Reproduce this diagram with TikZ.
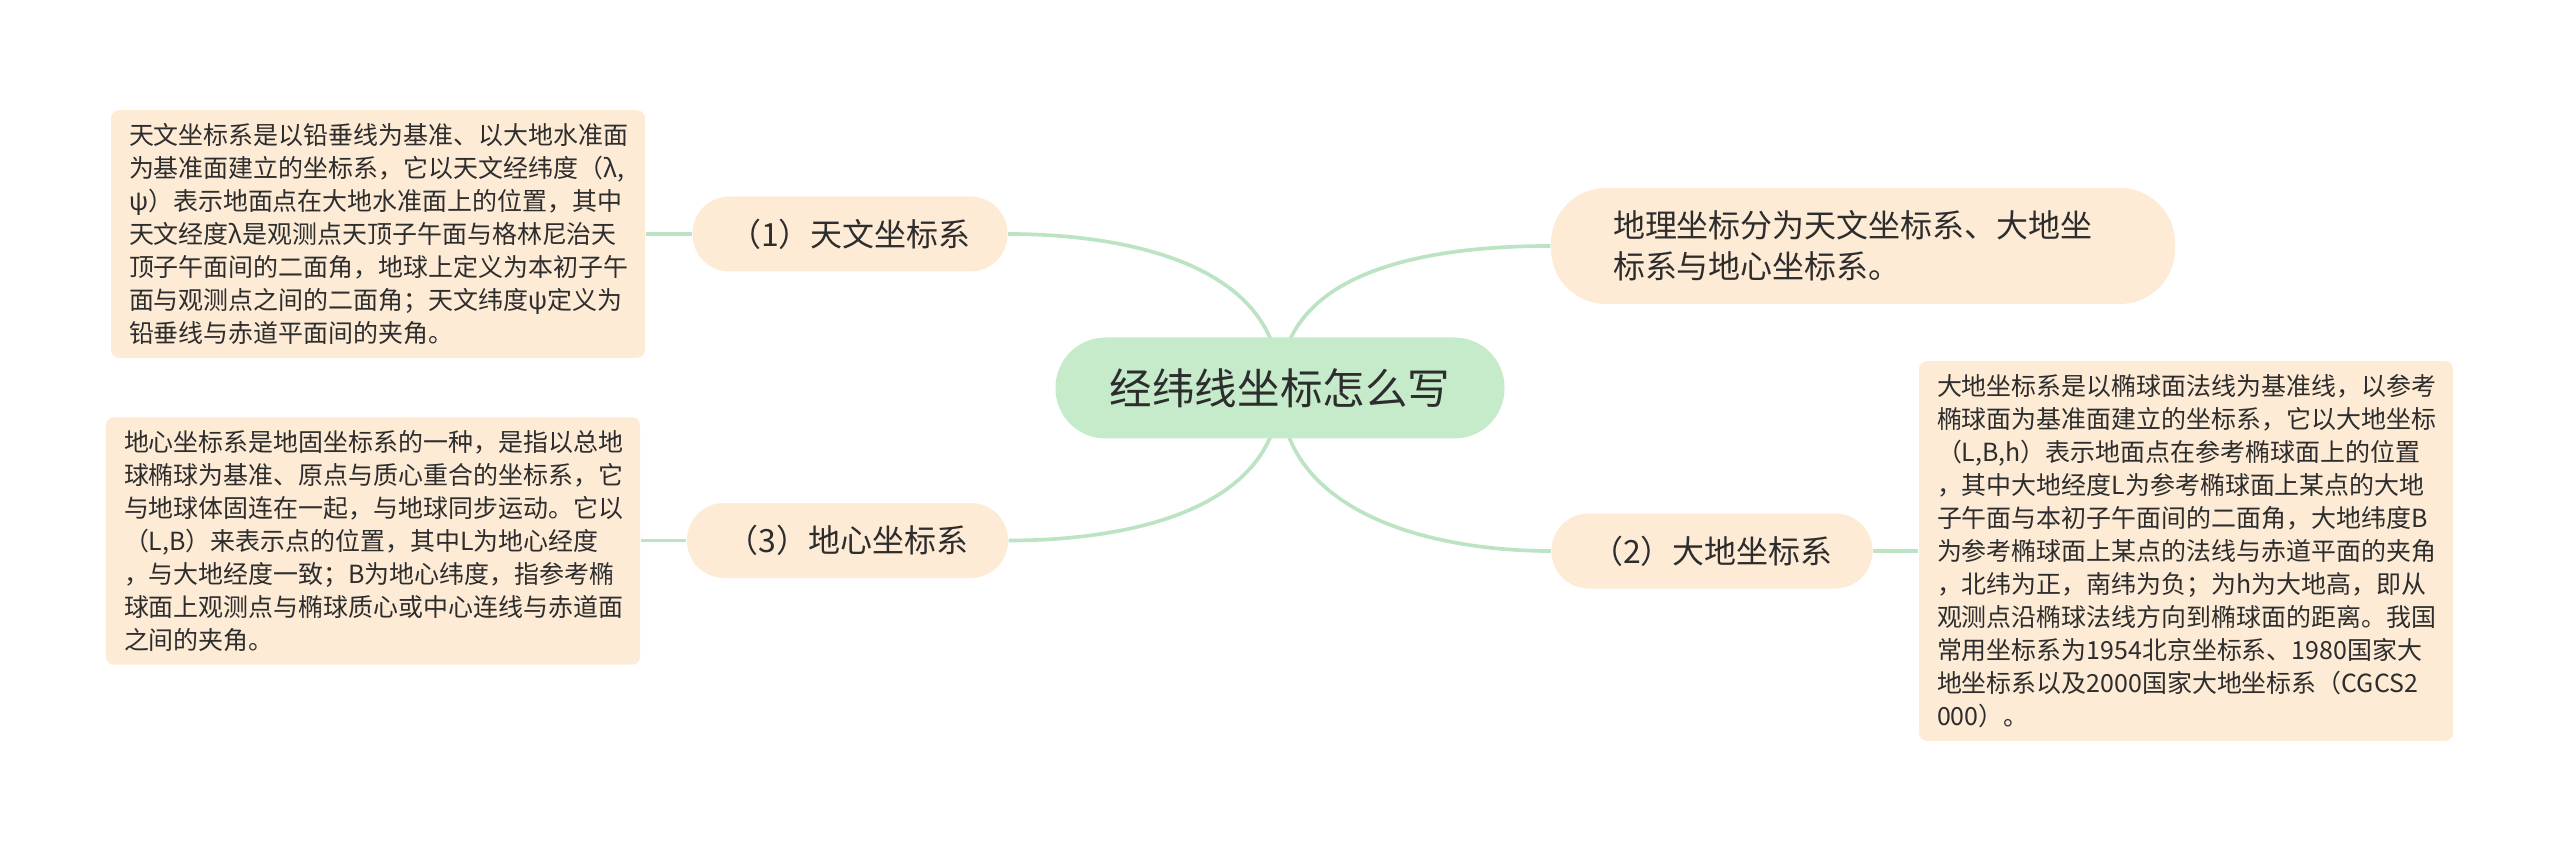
\documentclass[tikz,border=0pt]{standalone}
\usepackage{fontspec}
\newfontfamily\cjk{Noto Sans CJK SC}
\usetikzlibrary{calc, positioning}
\usetikzlibrary{backgrounds}

\definecolor{rootgreen}{RGB}{197,235,203}
\definecolor{peach}{RGB}{253,235,214}
\definecolor{linkgreen}{RGB}{188,228,196}
\definecolor{textgray}{RGB}{45,45,45}

\begin{document}
\begin{tikzpicture}[
        root/.style={fill=rootgreen, rounded corners=5mm, minimum width=4.49cm,
            minimum height=1.01cm, inner sep=0pt, text=textgray,
            font=\cjk\fontsize{12.1}{14}\selectfont},
        topic/.style={fill=peach, rounded corners=3.7mm, minimum width=3.21cm,
            minimum height=0.75cm, inner sep=0pt, text=textgray,
            font=\cjk\fontsize{9.1}{11}\selectfont},
        note/.style={fill=peach, rounded corners=5.5mm, text width=5.0cm, align=left,
            inner xsep=6.2mm, minimum height=1.16cm, text=textgray,
            font=\cjk\fontsize{9.1}{11.7}\selectfont},
        leaf/.style={fill=peach, rounded corners=0.8mm, text width=4.98cm, align=left,
            inner xsep=1.8mm, inner ysep=1.3mm, text=textgray,
            font=\cjk\fontsize{7.1}{9.4}\selectfont},
        link/.style={draw=linkgreen, line width=1.05pt}
    ]
        \useasboundingbox (0,0) rectangle (25.6,8.51);

        \node[root] (root) at (12.80,4.63) {经纬线坐标怎么写};

        \node[topic, minimum width=3.15cm] (astro) at (8.50,6.17) {（1）天文坐标系};
        \node[topic] (geoc) at (8.475,3.105) {（3）地心坐标系};
        \node[topic] (geod) at (17.12,3.00) {（2）大地坐标系};
        \node[note] (intro) at (18.63,6.05) {地理坐标分为天文坐标系、大地坐\\标系与地心坐标系。};

        \node[leaf] (astrotxt) at (3.78,6.17) {天文坐标系是以铅垂线为基准、以大地水准面\\
            为基准面建立的坐标系，它以天文经纬度（λ,\\
            ψ）表示地面点在大地水准面上的位置，其中\\
            天文经度λ是观测点天顶子午面与格林尼治天\\
            顶子午面间的二面角，地球上定义为本初子午\\
            面与观测点之间的二面角；天文纬度ψ定义为\\
            铅垂线与赤道平面间的夹角。};

        \node[leaf] (geoctxt) at (3.73,3.10) {地心坐标系是地固坐标系的一种，是指以总地\\
            球椭球为基准、原点与质心重合的坐标系，它\\
            与地球体固连在一起，与地球同步运动。它以\\
            （L,B）来表示点的位置，其中L为地心经度\\
            ，与大地经度一致；B为地心纬度，指参考椭\\
            球面上观测点与椭球质心或中心连线与赤道面\\
            之间的夹角。};

        \node[leaf] (geodtxt) at (21.86,3.00) {大地坐标系是以椭球面法线为基准线，以参考\\
            椭球面为基准面建立的坐标系，它以大地坐标\\
            （L,B,h）表示地面点在参考椭球面上的位置\\
            ，其中大地经度L为参考椭球面上某点的大地\\
            子午面与本初子午面间的二面角，大地纬度B\\
            为参考椭球面上某点的法线与赤道平面的夹角\\
            ，北纬为正，南纬为负；为h为大地高，即从\\
            观测点沿椭球法线方向到椭球面的距离。我国\\
            常用坐标系为1954北京坐标系、1980国家大\\
            地坐标系以及2000国家大地坐标系（CGCS2\\
            000）。};

        % branches run from the centre, under the root
        \begin{pgfonlayer}{background}
            \draw[link] (root.center) to[out=90, in=0] (astro.east);
            \draw[link] (root.center) to[out=90, in=180] (intro.west);
            \draw[link] (root.center) to[out=-90, in=0] (geoc.east);
            \draw[link] (root.center) to[out=-90, in=180] (geod.west);
        \end{pgfonlayer}

        \draw[link] (astro.west) -- (astro.west -| astrotxt.east);
        \draw[link] (geoc.west) -- (geoc.west -| geoctxt.east);
        \draw[link] (geod.east) -- (geod.east -| geodtxt.west);
    \end{tikzpicture}
\end{document}
